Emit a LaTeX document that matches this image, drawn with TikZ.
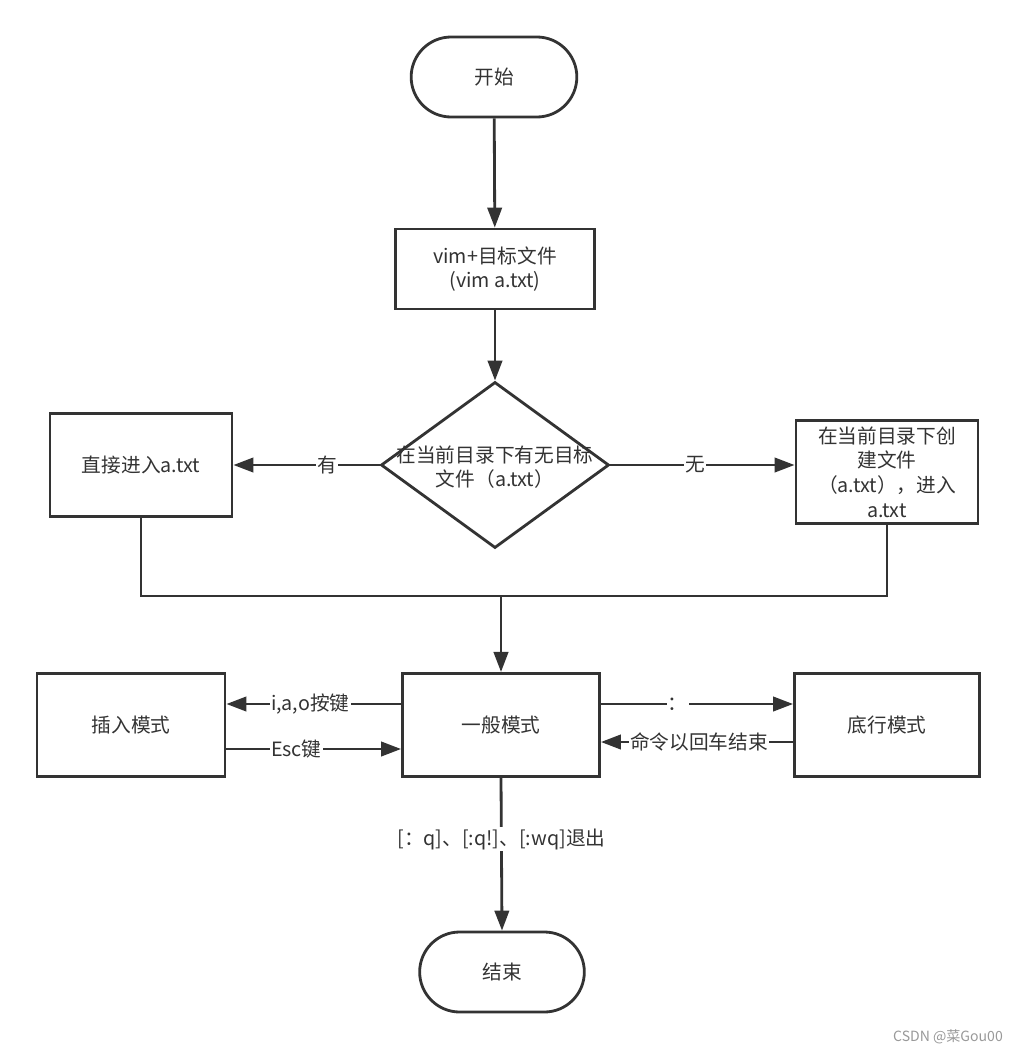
\documentclass[tikz,border=0pt]{standalone}
\usepackage{fontspec}
\setmainfont{Noto Sans CJK SC}
\usetikzlibrary{arrows.meta}
\usetikzlibrary{shapes.geometric}
\usetikzlibrary{shapes.misc}
\usetikzlibrary{positioning}

\definecolor{inkgray}{HTML}{333333}

\begin{document}
\begin{tikzpicture}[x=0.025cm,y=-0.025cm,
    font=\fontsize{14}{17.5}\selectfont,
    every node/.style={text=inkgray},
    terminal/.style={draw=inkgray,line width=2pt,rounded rectangle,minimum width=4.35cm,minimum height=2cm},
    process/.style={draw=inkgray,line width=2pt,rectangle,align=center,minimum height=2.58cm},
    decision/.style={draw=inkgray,line width=2pt,diamond,inner sep=0pt,minimum width=5.7cm,minimum height=4.15cm},
    flow/.style={draw=inkgray,line width=2pt,-{Triangle[length=0.5cm,width=0.36cm]}},
    wire/.style={draw=inkgray,line width=2pt},
    tag/.style={fill=white,inner sep=1pt}]

  \useasboundingbox [fill=white] (0,0) rectangle (1017,1054);

  \node [terminal,minimum width=4.375cm] (start) at (494,77) {开始};
  \node [process,minimum width=4.975cm,minimum height=2cm] (vimcmd) at (495,269) {vim+目标文件\\(vim a.txt)};
  \node [decision] (check) at (495,465) {};
  \node [align=center] (checktext) at (495,467) {在当前目录下有无目标\\文件（a.txt）};
  \node [process,minimum width=4.55cm] (direct) at (141,465) {直接进入a.txt};
  \node [process,minimum width=4.55cm] (create) at (887,472) {在当前目录下创\\建文件\\（a.txt），进入\\a.txt};
  \coordinate (merge) at (501,596);
  \node [process,minimum width=4.925cm] (normal) at (501,725) {一般模式};
  \node [process,minimum width=4.7cm] (insert) at (131,725) {插入模式};
  \node [process,minimum width=4.625cm] (lastline) at (887,725) {底行模式};
  \node [terminal] (finish) at (502,972) {结束};

  \path [flow] (start) -- (vimcmd);
  \path [flow] (vimcmd) -- (check);

  \path [flow] (check.west) -- node [tag,pos=0.36] (yeslab) {有} (direct.east);
  \path [flow] (check.east) -- node [tag,pos=0.46] (nolab) {无} (check.east -| create.west);

  \path [wire] (direct.south) |- (merge);
  \path [wire] (create.south) |- (merge);
  \path [flow] (merge) -- (normal.north);

  \path [flow] (normal.west |- 0,704) -- node [tag,pos=0.52] (iaolab) {i,a,o按键} (insert.east |- 0,704);
  \path [flow] (insert.east |- 0,749) -- node [tag,pos=0.4] (esclab) {Esc键} (normal.west |- 0,749);
  \path [flow] (normal.east |- 0,704) -- node [tag,pos=0.4] (colonlab) {：} (lastline.west |- 0,704);
  \path [flow] (lastline.west |- 0,742) -- node [tag,pos=0.49] (enterlab) {命令以回车结束} (normal.east |- 0,742);

  \path [flow] (normal.south) -- node [tag,pos=0.4] (quitlab) {[：q]、[:q!]、[:wq]退出} (finish.north);

  \node [text=gray!80,font=\fontsize{10}{12}\selectfont] (mark) at (948,1037) {CSDN @菜Gou00};

\end{tikzpicture}
\end{document}
